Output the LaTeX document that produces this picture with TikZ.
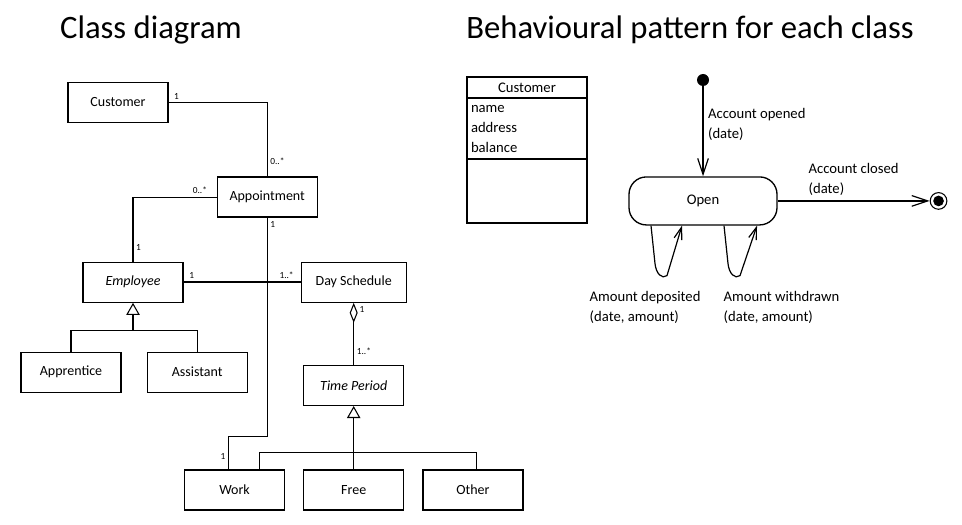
\documentclass[tikz,border=0pt]{standalone}
\usepackage{fontspec}
\setmainfont{Carlito}
\usetikzlibrary{positioning, arrows.meta}

\begin{document}
\begin{tikzpicture}[x=0.75pt, y=-0.75pt, node distance=2cm and 3cm]
				\tikzstyle{heading} = [font=\fontsize{24.5}{28}\selectfont];
				\tikzstyle{class} = [rectangle, draw=black, line width=0.9pt, minimum width=75pt, minimum height=30pt, font=\fontsize{10.5}{12}\selectfont];
				\tikzstyle{abstract} = [class, font=\fontsize{10.5}{12}\selectfont\itshape];
				\tikzstyle{mult} = [font=\fontsize{7}{8}\selectfont, inner sep=2pt];
				\tikzstyle{assoc} = [draw=black, line width=0.8pt];
				\tikzstyle{gen} = [-{Triangle[open, length=9pt, width=10pt]}];
				\tikzstyle{agg} = [-{Diamond[open, length=15pt, width=6pt]}];
				\tikzstyle{attrhead} = [rectangle, draw=black, line width=1pt, outer sep=0pt, minimum width=90pt, minimum height=15.75pt, font=\fontsize{11}{13}\selectfont];
				\tikzstyle{attrbox} = [rectangle, draw=black, line width=1pt, outer sep=0pt, minimum width=90pt, minimum height=45.75pt, text width=84pt, align=left, inner xsep=2.5pt, inner ysep=1pt, font=\fontsize{11}{15}\selectfont];
				\tikzstyle{initstate} = [circle, fill=black, minimum size=9pt, inner sep=0pt];
				\tikzstyle{statebox} = [rectangle, rounded corners=13pt, draw=black, line width=1pt, minimum width=111pt, minimum height=36pt, font=\fontsize{11}{13}\selectfont];
				\tikzstyle{finalstate} = [circle, draw=black, line width=0.8pt, minimum size=12.5pt, inner sep=0pt, path picture={\fill (path picture bounding box.center) circle (4pt);}];
				\tikzstyle{eventtext} = [align=left, font=\fontsize{11}{15}\selectfont];
				\tikzstyle{trans} = [draw=black, line width=0.9pt, -{Straight Barb[length=12pt, width=8pt]}];
				\tikzstyle{selftrans} = [draw=black, line width=0.9pt, -{Straight Barb[length=9pt, width=6pt]}];
				
				\useasboundingbox (0,0) rectangle (962,524);
				
				\node[heading](classtitle) at (151,30){Class diagram};
				\node[heading](behavtitle) at (690,30){Behavioural pattern for each class};
				
				\node[class](customer) at (118,102.5){Customer};
				\node[class, below right = 40pt and 36pt of customer](appointment){Appointment};
				\node[abstract, below left = 33pt and 24.75pt of appointment](employee){Employee};
				\node[class, minimum width=78.75pt, right = 87.75pt of employee](dayschedule){Day Schedule};
				\node[class, below = 36.5pt of employee, xshift=-46.5pt](apprentice){Apprentice};
				\node[class, right = 18.75pt of apprentice](assistant){Assistant};
				\node[abstract, below = 46.5pt of dayschedule](timeperiod){Time Period};
				\node[class, below = 47.5pt of timeperiod](free){Free};
				\node[class, left = 13.5pt of free](work){Work};
				\node[class, right = 13.5pt of free](other){Other};
				\coordinate (empfork) at ([yshift=-21pt]employee.south);
				\coordinate (tpfork) at ([yshift=12.75pt]free.north);
				
				\draw[assoc] (customer.east) -| node[mult, pos=0.04, above]{1} node[mult, pos=0.9, right]{0..*} (appointment.north);
				\draw[assoc] (appointment.west) -| node[mult, pos=0.1, above]{0..*} node[mult, pos=0.89, right]{1} (employee.north);
				\draw[assoc] (appointment.south) -- node[mult, pos=0.03, right]{1} ++(0,219) -| node[mult, pos=0.8, left]{1} ([xshift=-4.5pt]work.north);
				\draw[assoc, line width=1.8pt] (employee) -- node[mult, pos=0.07, above]{1} node[mult, pos=0.88, above]{1..*} (dayschedule);
				\draw[assoc] (apprentice.north) |- (empfork) -| (assistant.north);
				\draw[assoc, gen] (empfork) -- (employee.south);
				\draw[assoc, agg] (timeperiod.north) -- node[mult, pos=0.22, right]{1..*} node[mult, pos=0.9, right, xshift=2pt]{1} (dayschedule.south);
				\draw[assoc] ([xshift=18.75pt]work.north) |- (tpfork) -| ([xshift=3pt]other.north);
				\draw[assoc, gen] (free.north) -- (timeperiod.south);
				
				\node[attrhead](custhead) at (527,87.5){Customer};
				\node[attrbox, below = 0pt of custhead](custattr){name\\address\\balance};
				\node[attrbox, below = 0pt of custattr, minimum height=48pt](custops){};
				
				\node[initstate](init) at (703,80){};
				\node[statebox, below = 67.5pt of init](open){Open};
				\node[finalstate, right = 114pt of open](final){};
				\node[eventtext, anchor=north west](depositlabel) at ([xshift=-88.5pt, yshift=-45.75pt]open.south){Amount deposited\\(date, amount)};
				\node[eventtext, anchor=north west](withdrawlabel) at ([xshift=12pt, yshift=-45.75pt]open.south){Amount withdrawn\\(date, amount)};
				
				\path[trans] (init) edge node[eventtext, right, pos=0.42]{Account opened\\(date)} (open)
				(open) edge node[eventtext, above, pos=0.5]{Account closed\\(date)} (final);
				\draw[selftrans] ([xshift=-39pt]open.south) -- ++(4,38) .. controls +(1,10) and +(-5,4) .. ++(12,12) -- ([xshift=-15.75pt]open.south);
				\draw[selftrans] ([xshift=15.75pt]open.south) -- ++(4,38) .. controls +(1,10) and +(-5,4) .. ++(12,12) -- ([xshift=40.5pt]open.south);
			\end{tikzpicture}
\end{document}
